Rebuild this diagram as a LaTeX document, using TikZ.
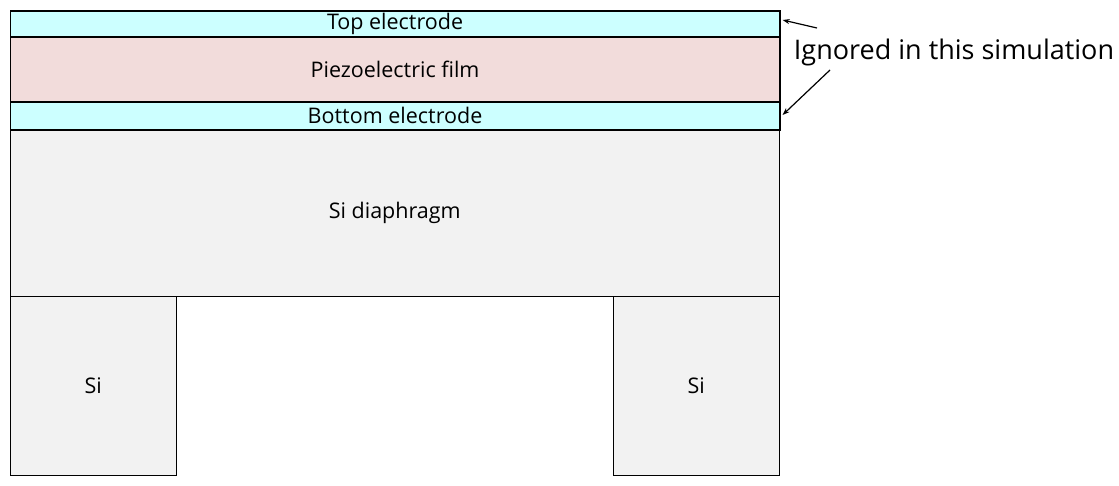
\documentclass[tikz,border=0pt]{standalone}
\usepackage{fontspec}
\setmainfont{Open Sans}
\usetikzlibrary{arrows.meta}
\begin{document}
\begin{tikzpicture}[x=1pt,y=-1pt,
  layer/.style={draw=black,line width=1.6pt,anchor=north west,inner sep=0pt,minimum width=769.5pt,font=\fontsize{21.5}{24}\selectfont},
  thin layer/.style={layer,line width=1pt},
  sibox/.style={draw=black,line width=1pt,anchor=north west,inner sep=0pt,minimum width=166.5pt,minimum height=179pt,fill=grayfill,font=\fontsize{21.5}{24}\selectfont},
  callout/.style={-{Stealth[length=7pt,width=5pt]},line width=1.2pt}]
\definecolor{cyanfill}{HTML}{CCFFFF}
\definecolor{pinkfill}{HTML}{F2DCDB}
\definecolor{grayfill}{HTML}{F2F2F2}
\useasboundingbox (0,0) rectangle (1119,485);
\node[thin layer,fill=grayfill,minimum height=167pt] (dia) at (9.5,129) {Si diaphragm};
\node[sibox] (sil) at (9.5,296) {Si};
\node[sibox] (sir) at (612.5,296) {Si};
\node[layer,fill=cyanfill,minimum height=26pt] (top) at (9.5,10) {Top electrode};
\node[layer,fill=cyanfill,minimum height=28pt] (bot) at (9.5,101) {Bottom electrode};
\node[layer,fill=pinkfill,minimum height=65pt] (pz) at (9.5,36) {Piezoelectric film};
\node[font=\fontsize{27}{32}\selectfont,inner sep=0pt] (lbl) at (954,52) {Ignored in this simulation};
\coordinate (a1) at (817,28);
\coordinate (a2) at (830,70);
\draw[callout] (a1) -- ([xshift=2pt,yshift=-10pt]top.north east);
\draw[callout] (a2) -- ([xshift=2pt,yshift=-14pt]bot.north east);
\end{tikzpicture}
\end{document}
